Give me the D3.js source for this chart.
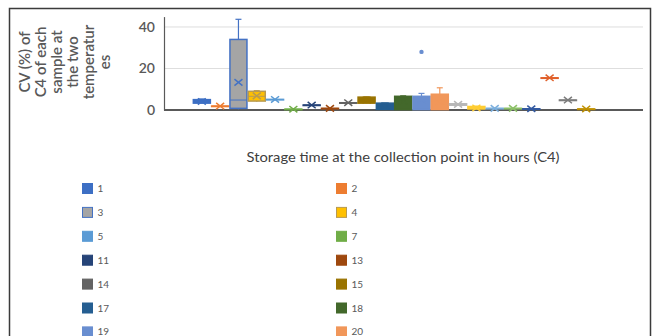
<!DOCTYPE html>
<html><head><meta charset="utf-8">
<script src="https://cdn.jsdelivr.net/npm/d3@7"></script>
<style>
html,body{margin:0;padding:0;background:#fff;}
svg{display:block;font-family:Lato,"Open Sans",sans-serif;}
</style></head>
<body>
<svg id="chart" width="658" height="336"></svg>
<script>
// ---- data ----
const seriesNames = ["1","2","3","4","5","7","11","13","14","15","17","18","19","20","21","22","23","24","25","26","27","28"];
const minVals    = [3.0, 1.9, 0.3, 4.0, 5.1, 0.4, 2.4, 0.8, 3.5, 3.2, 0.2, 0.0, 0.0, 0.0, 2.3, 0.4, 0.8, 0.8, 0.6, 15.5, 4.8, 0.5];
const q1Vals     = [3.3, 1.9, 0.8, 4.3, 5.1, 0.4, 2.4, 0.8, 3.5, 3.3, 0.3, 0.2, 0.2, 0.2, 2.3, 0.5, 0.8, 0.8, 0.6, 15.5, 4.8, 0.5];
const medianVals = [4.2, 1.9, 4.8, 6.6, 5.1, 0.4, 2.4, 0.8, 3.5, 4.8, 2.0, 5.6, 5.5, 4.5, 2.7, 1.0, 0.8, 0.8, 0.6, 15.5, 4.8, 0.5];
const q3Vals     = [5.0, 1.9, 34.0, 9.0, 5.1, 0.4, 2.4, 0.8, 3.5, 6.2, 3.3, 6.6, 6.6, 7.6, 3.0, 1.7, 0.8, 0.8, 0.6, 15.5, 4.8, 0.5];
const maxVals    = [5.3, 1.9, 43.7, 9.3, 5.1, 0.4, 2.4, 0.8, 3.5, 6.3, 3.4, 6.8, 8.0, 10.7, 3.0, 1.8, 0.8, 0.8, 0.6, 15.5, 4.8, 0.5];
const meanVals   = [4.1, 1.9, 13.3, 6.8, 5.1, 0.4, 2.4, 0.8, 3.5, 4.8, 1.9, 4.2, 5.0, 4.0, 2.7, 1.0, 0.8, 0.8, 0.6, 15.5, 4.8, 0.5];
const outlierVals = [[],[],[],[],[],[],[],[],[],[],[],[],[28],[],[],[],[],[],[],[],[],[]];
const yTicks = [0, 20, 40];
const yMax = 45;
const xTitle = "Storage time at the collection point in hours (C4)";
const yTitleLines = ["CV (%) of","C4 of each","sample at","the two","temperatur","es"];

// ---- styles ----
const fills = ["#3D6FC4","#ED7D31","#A5A5A5","#FFC000","#5B9BD5","#70AD47","#264478","#9E480E","#636363","#997300","#255E91","#43682B","#698ED0","#F1975A","#B7B7B7","#FFCD33","#7CAFDD","#8CC168","#335AA1","#E0602A","#7C7C7C","#BF9000"];
const strokes = fills.slice();
strokes[2] = "#4472C4";
strokes[3] = "#B89A50";

const svg = d3.select("#chart");
const W = 658, H = 336;
const plot = {left:164, right:643, top:16.6, bottom:110};

// outer frame
svg.append("rect").attr("x",9.5).attr("y",8.5).attr("width",641).attr("height",340)
  .attr("fill","none").attr("stroke","#3b3b3b").attr("stroke-width",1.5);

const x = d3.scaleBand().domain(seriesNames).range([plot.left, plot.right])
  .paddingInner(0.07).paddingOuter(2.12).align(0.378);
const y = d3.scaleLinear().domain([0, yMax]).range([plot.bottom, plot.top]);

// gridlines
svg.append("g").selectAll("line").data(yTicks.filter(d=>d>0)).join("line")
  .attr("x1",plot.left).attr("x2",plot.right)
  .attr("y1",d=>y(d)).attr("y2",d=>y(d))
  .attr("stroke","#dedede").attr("stroke-width",1);

// y axis
const yAxis = d3.axisLeft(y).tickValues(yTicks).tickSize(0).tickPadding(9);
const gy = svg.append("g").attr("transform",`translate(${plot.left},0)`).call(yAxis);
gy.select(".domain").attr("stroke","#595959").attr("stroke-width",1.2);
gy.selectAll("text").attr("fill","#595959").attr("font-size",14).attr("font-weight",600).attr("font-family","Lato,sans-serif");

// x baseline
svg.append("line").attr("x1",plot.left).attr("x2",plot.right)
  .attr("y1",y(0)).attr("y2",y(0)).attr("stroke","#595959").attr("stroke-width",2);

// boxes
const bw = x.bandwidth();
const data = seriesNames.map((n,i)=>({name:n,i,min:minVals[i],q1:q1Vals[i],med:medianVals[i],q3:q3Vals[i],max:maxVals[i],mean:meanVals[i],out:outlierVals[i]}));
const g = svg.append("g");
data.forEach(d=>{
  const cx = x(d.name) + bw/2;
  const col = fills[d.i], st = strokes[d.i];
  const cap = 3;
  if (d.max > d.q3) {
    g.append("line").attr("x1",cx).attr("x2",cx).attr("y1",y(d.q3)).attr("y2",y(d.max)).attr("stroke",st).attr("stroke-width",1.2);
    g.append("line").attr("x1",cx-cap).attr("x2",cx+cap).attr("y1",y(d.max)).attr("y2",y(d.max)).attr("stroke",st).attr("stroke-width",1.2);
  }
  if (d.min < d.q1) {
    g.append("line").attr("x1",cx).attr("x2",cx).attr("y1",y(d.q1)).attr("y2",y(d.min)).attr("stroke",st).attr("stroke-width",1.2);
  }
  const top = y(d.q3), bot = y(d.q1);
  g.append("rect").attr("x",x(d.name)).attr("width",bw)
    .attr("y",top).attr("height",Math.max(0.5,bot-top))
    .attr("fill",col).attr("stroke",st).attr("stroke-width",1.5);
  g.append("line").attr("x1",x(d.name)).attr("x2",x(d.name)+bw)
    .attr("y1",y(d.med)).attr("y2",y(d.med)).attr("stroke",st).attr("stroke-width",1);
  const m = 4, my = y(d.mean);
  const xc = (bot-top) > 3 ? st : col;
  g.append("path").attr("d",`M${cx-m},${my-m*0.8}L${cx+m},${my+m*0.8}M${cx-m},${my+m*0.8}L${cx+m},${my-m*0.8}`)
    .attr("stroke",xc).attr("stroke-width",1.5).attr("fill","none");
  d.out.forEach(o=>{
    g.append("circle").attr("cx",cx).attr("cy",y(o)).attr("r",2.2).attr("fill",col);
  });
});

// x title
svg.append("text").attr("x",403).attr("y",162).attr("text-anchor","middle")
  .attr("font-size",13.5).attr("fill","#404040").attr("textLength",313).attr("lengthAdjust","spacingAndGlyphs")
  .text(xTitle);

// y title
const yt = svg.append("text").attr("transform","translate(0,62) rotate(-90)")
  .attr("text-anchor","middle").attr("font-size",15).attr("font-weight",600).attr("fill","#595959");
yTitleLines.forEach((t,i)=>{
  yt.append("tspan").attr("x",0).attr("y",30 + i*16).text(t);
});

// legend
const leg = svg.append("g");
data.forEach(d=>{
  const colX = d.i % 2 === 0 ? 82 : 336;
  const rowY = 188 + Math.floor(d.i/2)*23.9;
  if (rowY > H) return;
  leg.append("rect").attr("x",colX+0.5).attr("y",rowY-4.5).attr("width",10).attr("height",10)
    .attr("fill",fills[d.i]).attr("stroke",strokes[d.i]).attr("stroke-width",1);
  leg.append("text").attr("x",colX+15.5).attr("y",rowY+4).attr("font-size",10).attr("fill","#595959").text(d.name);
});
</script>
</body></html>
